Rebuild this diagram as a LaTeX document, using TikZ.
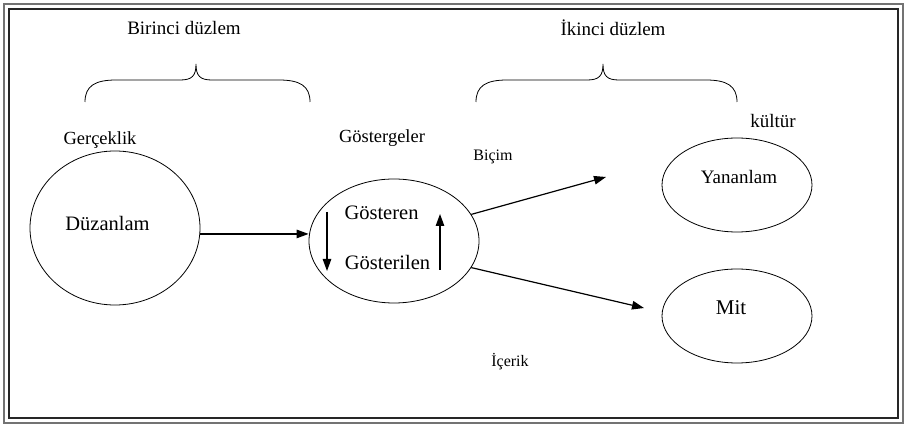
\documentclass[tikz,border=0pt]{standalone}
\usepackage{fontspec}
\setmainfont{Liberation Serif}
\usetikzlibrary{arrows.meta,shapes.geometric}
\tikzset{
  ell/.style={draw, ellipse, line width=0.8pt, inner sep=0pt},
  lbl/.style={inner sep=0pt, anchor=center},
  arr/.style={line width=1.2pt, -{Triangle[length=12pt,width=8.5pt]}},
  brace/.style={line width=0.8pt},
}
\newcommand{\fs}[1]{\fontsize{#1}{#1}\selectfont}
\begin{document}
\begin{tikzpicture}[x=1pt,y=-1pt]
\useasboundingbox (0,0) rectangle (905,427);
% frame
\draw[line width=1.3pt, black!55] (4,4) rectangle (903,423);
\draw[line width=1.1pt, black!85] (9,9) rectangle (898,418);
% titles
\node[lbl] (t1) at (184,28) {\fs{19}Birinci düzlem};
\node[lbl] (t2) at (613,28) {\fs{19}İkinci düzlem};
% braces
\draw[brace] (85,102) .. controls (85,86) and (95,80) .. (116,80) -- (180,80)
  .. controls (192,80) and (196,76) .. (196,64) .. controls (196,76) and (200,80) .. (212,80)
  -- (279,80) .. controls (300,80) and (310,86) .. (310,102);
\draw[brace] (476,102) .. controls (476,86) and (486,80) .. (507,80) -- (587,80)
  .. controls (599,80) and (603,76) .. (603,64) .. controls (603,76) and (607,80) .. (619,80)
  -- (706,80) .. controls (727,80) and (737,86) .. (737,102);
% labels
\node[lbl] (ger) at (100,140) {\fs{18.5}Gerçeklik};
\node[lbl] (gst) at (382,138) {\fs{18.5}Göstergeler};
\node[lbl] (kul) at (773,121) {\fs{19}kültür};
\node[lbl] (bic) at (493,157) {\fs{16}Biçim};
\node[lbl] (ice) at (510,362) {\fs{16}İçerik};
% ellipses
\node[ell, minimum width=170pt, minimum height=154pt] (duz) at (115,228) {};
\node[lbl] at (107.5,223) {\fs{20.5}Düzanlam};
\node[ell, minimum width=170pt, minimum height=124pt] (gos) at (394,241) {};
\node[lbl] (gsr) at (381.5,213) {\fs{20.5}Gösteren};
\node[lbl] (gsl) at (387.5,262) {\fs{20.5}Gösterilen};
\node[ell, minimum width=150pt, minimum height=94pt] (yan) at (737,185) {};
\node[lbl] at (739,177) {\fs{19}Yananlam};
\node[ell, minimum width=150pt, minimum height=94pt] (mit) at (737,316) {};
\node[lbl] at (731,308) {\fs{21}Mit};
% arrows
\draw[arr] (duz.-4) -- (duz.-4 -| gos.west);
\coordinate (d1) at (327,212);
\coordinate (d2) at (327,271);
\coordinate (u1) at (440,270);
\coordinate (u2) at (440,214);
\draw[arr] (d1) -- (d2);
\draw[arr] (u1) -- (u2);
\coordinate (bt) at (606,177);
\coordinate (it) at (644,308);
\draw[arr] (gos.19) -- (bt);
\draw[arr] (gos.-19) -- (it);
\end{tikzpicture}
\end{document}
